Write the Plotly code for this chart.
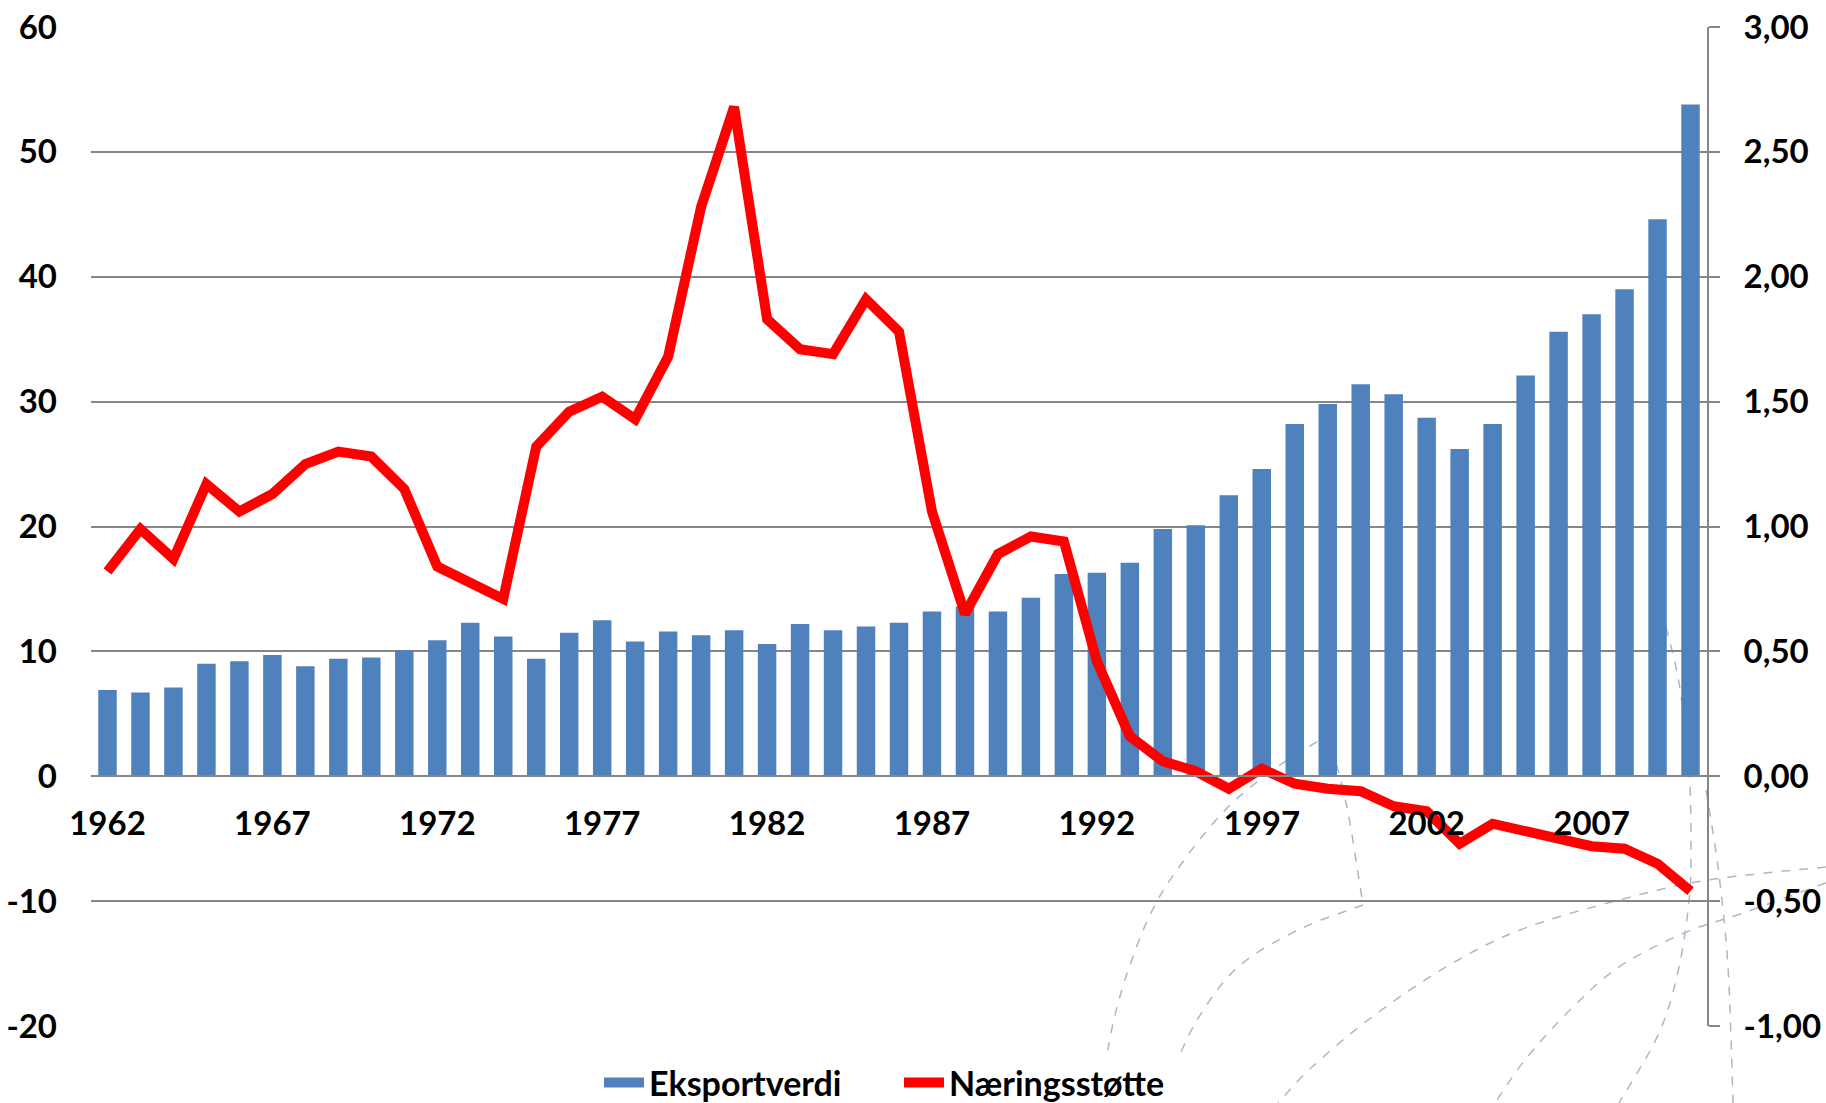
import plotly.graph_objects as go

# Data
years = list(range(1962, 2011))
eksportverdi = [
    6.9, 6.7, 7.1, 9.0, 9.2, 9.7, 8.8, 9.4, 9.5, 10.1,
    10.9, 12.3, 11.2, 9.4, 11.5, 12.5, 10.8, 11.6, 11.3, 11.7,
    10.6, 12.2, 11.7, 12.0, 12.3, 13.2, 13.6, 13.2, 14.3, 16.2,
    16.3, 17.1, 19.8, 20.1, 22.5, 24.6, 28.2, 29.8, 31.4, 30.6,
    28.7, 26.2, 28.2, 32.1, 35.6, 37.0, 39.0, 44.6, 53.8,
]
naeringsstotte = [
    0.82, 0.99, 0.87, 1.17, 1.06, 1.13, 1.25, 1.30, 1.28, 1.15,
    0.84, 0.77, 0.71, 1.32, 1.46, 1.52, 1.43, 1.68, 2.28, 2.68,
    1.83, 1.71, 1.69, 1.91, 1.78, 1.06, 0.65, 0.89, 0.96, 0.94,
    0.46, 0.16, 0.06, 0.02, -0.05, 0.03, -0.03, -0.05, -0.06, -0.12,
    -0.14, -0.27, -0.19, -0.22, -0.25, -0.28, -0.29, -0.35, -0.46,
]
x_ticks = [1962, 1967, 1972, 1977, 1982, 1987, 1992, 1997, 2002, 2007]
left_ticks = list(range(-20, 61, 10))
right_ticks = [-1.0, -0.5, 0.0, 0.5, 1.0, 1.5, 2.0, 2.5, 3.0]

BLUE = "#4f81bd"
GRID = "#868686"
W, H = 1826, 1103
L, R, T, B = 91, 1707, 27, 1026


def to_paper(pts):
    return [((x - L) / (R - L), (B - y) / (B - T)) for x, y in pts]


def smooth_path(pts):
    # catmull-rom through the points, in paper units
    p = to_paper(pts)
    d = f"M {p[0][0]:.4f},{p[0][1]:.4f}"
    for i in range(len(p) - 1):
        p0 = p[i - 1] if i > 0 else p[i]
        p1, p2 = p[i], p[i + 1]
        p3 = p[i + 2] if i + 2 < len(p) else p2
        c1 = (p1[0] + (p2[0] - p0[0]) / 6, p1[1] + (p2[1] - p0[1]) / 6)
        c2 = (p2[0] - (p3[0] - p1[0]) / 6, p2[1] - (p3[1] - p1[1]) / 6)
        d += f" C {c1[0]:.4f},{c1[1]:.4f} {c2[0]:.4f},{c2[1]:.4f} {p2[0]:.4f},{p2[1]:.4f}"
    return d


# faint dashed background ornament (bottom right)
arcs = [
    [(1317, 742), (1283, 763), (1228, 807), (1179, 867), (1149, 917), (1124, 983), (1109, 1043), (1102, 1103)],
    [(1332, 747), (1347, 807), (1357, 867), (1363, 905)],
    [(1363, 905), (1298, 930), (1238, 967), (1199, 1017), (1174, 1067), (1156, 1103)],
    [(1826, 867), (1708, 880), (1619, 900), (1520, 930), (1446, 967), (1372, 1017), (1312, 1067), (1278, 1103)],
    [(1826, 883), (1743, 913), (1684, 933), (1619, 967), (1570, 1010), (1525, 1060), (1495, 1103)],
    [(1666, 627), (1679, 683), (1689, 767), (1691, 850), (1689, 900), (1679, 967), (1659, 1033), (1619, 1103)],
    [(1706, 790), (1718, 867), (1728, 967), (1733, 1103)],
]
shapes = [
    dict(type="path", path=smooth_path(a), xref="paper", yref="paper", layer="below",
         line=dict(color="#a7b9c9", width=1.5, dash="dash"))
    for a in arcs
]

fig = go.Figure()
fig.add_trace(go.Bar(
    x=years, y=eksportverdi, name="Eksportverdi", legendgroup="eksport", showlegend=False,
    marker=dict(color=BLUE, line=dict(width=0)),
))
# legend-only entry so the swatch is a wide block like Excel's
fig.add_trace(go.Scatter(
    x=[None], y=[None], name="Eksportverdi", legendgroup="eksport",
    mode="lines", line=dict(color=BLUE, width=20),
))
fig.add_trace(go.Scatter(
    x=years, y=naeringsstotte, name="Næringsstøtte", yaxis="y2",
    mode="lines", line=dict(color="#ff0000", width=10),
))

fig.update_layout(
    template="none",
    width=W, height=H,
    margin=dict(l=L, r=W - R, t=T, b=H - B, autoexpand=False),
    plot_bgcolor="white", paper_bgcolor="white",
    font=dict(family="Lato", size=33, color="black", weight="bold"),
    bargap=0.44,
    showlegend=True,
    legend=dict(orientation="h", x=0.5, xanchor="center",
                yref="container", y=1 - 1083 / H, yanchor="middle",
                font=dict(size=34), itemwidth=40, entrywidth=245, traceorder="normal"),
    shapes=shapes,
    xaxis=dict(
        range=[1961.5, 2010.5], tickvals=x_ticks, showgrid=False, zeroline=False,
        anchor="free", position=0.25, showline=True, linecolor=GRID, linewidth=2,
        ticks="", ticklabelstandoff=18, automargin=False,
    ),
    yaxis=dict(
        range=[-20, 60], tickvals=left_ticks, ticktext=[str(v) for v in left_ticks],
        showgrid=True, gridcolor=GRID, gridwidth=2, automargin=False,
        zeroline=False, showline=False, ticks="", ticklabelstandoff=33,
    ),
    yaxis2=dict(
        range=[-1, 3], tickvals=right_ticks,
        ticktext=[f"{v:.2f}".replace(".", ",") for v in right_ticks],
        overlaying="y", side="right", automargin=False,
        showgrid=False, zeroline=False, showline=True, linecolor=GRID, linewidth=2,
        ticks="outside", ticklen=11, tickcolor=GRID, tickwidth=2, ticklabelstandoff=17,
    ),
)

fig.write_html(
    "out.html",
    config={"displayModeBar": False},
    post_script="document.body.style.margin='0';document.body.style.overflow='hidden';",
)
